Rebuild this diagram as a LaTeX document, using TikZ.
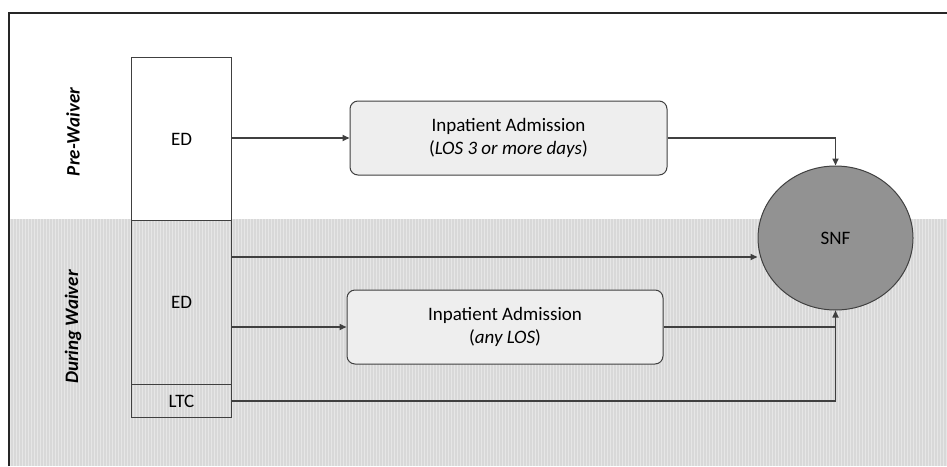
\documentclass[tikz,border=0pt]{standalone}
\usepackage{fontspec}
\setmainfont{Carlito}
\usetikzlibrary{arrows.meta,shapes.geometric}
\definecolor{linec}{HTML}{404040}
\definecolor{bgband}{HTML}{D8D8D8}
\definecolor{stripe}{HTML}{E6E6E6}
\definecolor{boxfill}{HTML}{EEEEEE}
\definecolor{snffill}{HTML}{929292}
\tikzset{
  stagebox/.style={draw=linec, line width=1pt, inner sep=0pt, anchor=north west},
  admbox/.style={draw=linec, line width=1pt, fill=boxfill, rounded corners=8pt, minimum width=317pt, minimum height=74pt, align=center, font=\fontsize{19}{23}\selectfont},
  flow/.style={draw=linec, line width=1.6pt, -{Triangle[length=7pt,width=6pt]}},
  plain/.style={draw=linec, line width=1.6pt},
  phase/.style={rotate=90, font=\fontsize{19}{22}\selectfont\bfseries\itshape},
  lbl/.style={font=\fontsize{19}{22}\selectfont}
}
\begin{document}
\begin{tikzpicture}[x=1pt,y=-1pt]
\useasboundingbox (0,0) rectangle (947,466);
\fill[white] (0,0) rectangle (947,466);
% waiver band with fine vertical stripes
\fill[bgband] (9,219) rectangle (947,466);
\foreach \i in {0,...,312} {
  \draw[stripe, line width=0.8pt] (10+3*\i,219) -- (10+3*\i,466);
}
% outer frame (top and left visible)
\draw[black!85, line width=1.5pt] (9,466) -- (9,13) -- (947,13);

% phase labels
\node[phase] (pre) at (73,132) {Pre-Waiver};
\node[phase] (during) at (73,327) {During Waiver};

% stage column
\node[stagebox, fill=white, minimum width=100pt, minimum height=163pt] (ed1) at (131,57) {};
\node[lbl] at (ed1.center) {ED};
\node[stagebox, minimum width=100pt, minimum height=164pt] (ed2) at (131,220) {};
\node[lbl] at (ed2.center) {ED};
\node[stagebox, minimum width=100pt, minimum height=33pt] (ltc) at (131,384) {};
\node[lbl] at (ltc.center) {LTC};

% admissions
\node[admbox] (adm1) at (508.5,138) {Inpatient Admission\\(\textit{LOS 3 or more days})};
\node[admbox, minimum width=316pt] (adm2) at (505,327) {Inpatient Admission\\(\textit{any LOS})};

% SNF
\node[ellipse, draw=linec, line width=1pt, fill=snffill, minimum width=155pt, minimum height=144pt] (snf) at (835.5,238) {};
\node[lbl] at (snf.center) {SNF};

% connectors
\draw[flow] (ed1.east |- adm1.west) -- (adm1.west);
\draw[flow] (adm1.east) -| (snf.north);
\draw[flow] (ed2.east |- 0,257) -- (snf.west |- 0,257);
\draw[flow] (ed2.east |- adm2.west) -- (adm2.west);
\draw[plain] (adm2.east) -- (snf.south |- adm2.east);
\draw[flow] (ltc.east) -| (snf.south);
\end{tikzpicture}
\end{document}
